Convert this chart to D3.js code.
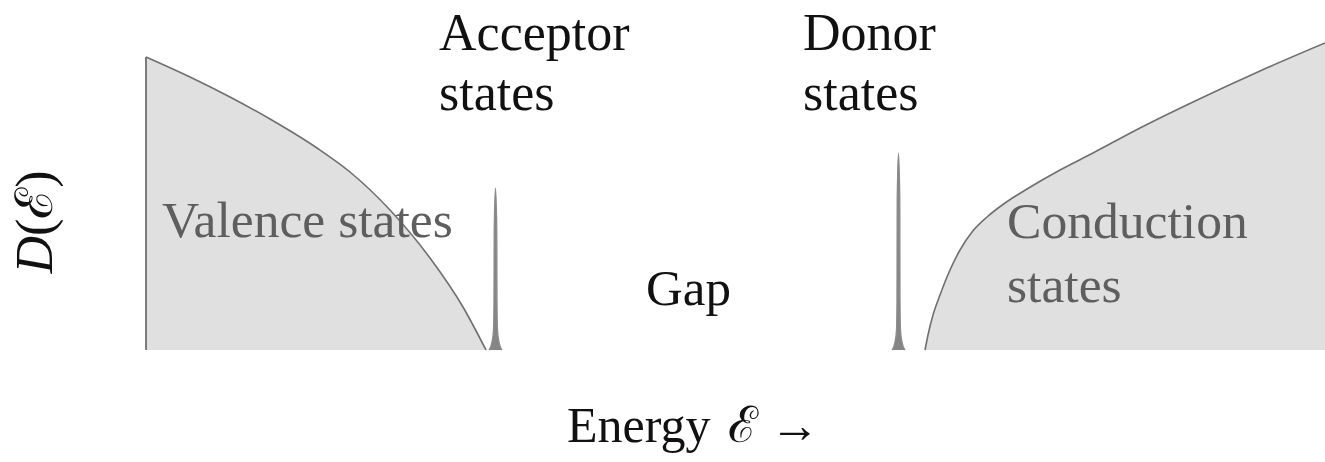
<!DOCTYPE html>
<html>
<head>
<meta charset="utf-8">
<script src="https://cdn.jsdelivr.net/npm/d3@7"></script>
<style>
  html, body { margin: 0; padding: 0; background: #fff; }
  svg { display: block; }
</style>
</head>
<body>
<svg id="chart" width="1325" height="462"></svg>
<script>
// Energy (arbitrary units) and density of states D(E)
const valenceEnergy = [0, 4.4, 8.4, 12.4, 17.1, 20.4, 24.4, 28.4, 31.7, 34.0];
const valenceDOS    = [29.3, 27.3, 25.3, 23.1, 20.2, 17.8, 14.0, 9.2, 4.3, 0];

const acceptorEnergy = [34.3, 34.6, 34.75, 34.8, 34.82, 34.95, 35.08, 35.1, 35.15, 35.3, 35.6];
const acceptorDOS    = [0, 0.8, 2, 5, 12, 16.2, 12, 5, 2, 0.8, 0];

const donorEnergy = [74.6, 74.9, 75.05, 75.1, 75.12, 75.25, 75.38, 75.4, 75.45, 75.6, 75.9];
const donorDOS    = [0, 0.8, 2, 5, 15, 19.7, 15, 5, 2, 0.8, 0];

const conductionEnergy = [77.9, 78.2, 78.7, 79.4, 80.4, 81.4, 82.6, 84.1, 85.9, 88.1, 91.4, 94.7, 99.4, 104.7, 111.4, 117.9];
const conductionDOS    = [0, 1.5, 3.5, 5.5, 8.0, 10.0, 11.8, 13.3, 14.7, 16.1, 18.0, 19.7, 22.2, 24.8, 27.9, 30.7];

const topLabels = [
  {lines: ["Acceptor", "states"], e: 29.5},
  {lines: ["Donor", "states"], e: 65.9}
];
const bandLabels = [
  {lines: ["Valence states"], e: 1.6, d: 11.3},
  {lines: ["Conduction", "states"], e: 86.1, d: 11.2}
];
const gapLabel = {text: "Gap", e: 50.0, d: 4.5};
const xTitle = ["Energy", "\u2130", "\u2192"];
const yTitle = ["D", "(\u2130)"];

const FONT = "'Liberation Serif', 'Times New Roman', serif";
const svg = d3.select("#chart");
const x = d3.scaleLinear().domain([0, 118]).range([146, 1326]);
const y = d3.scaleLinear().domain([0, 30]).range([350, 50]);

const zip = (es, ds) => es.map((e, i) => ({e, d: ds[i]}));
const fillC = "#e0e0e0", strokeC = "#6f6f6f";

const area = d3.area().x(p => x(p.e)).y0(y(0)).y1(p => y(p.d)).curve(d3.curveMonotoneX);
const line = d3.line().x(p => x(p.e)).y(p => y(p.d)).curve(d3.curveMonotoneX);

// Valence band
const val = zip(valenceEnergy, valenceDOS);
svg.append("path").attr("d", area(val)).attr("fill", fillC);
svg.append("path").attr("d", line(val)).attr("fill", "none").attr("stroke", strokeC).attr("stroke-width", 1.6);
svg.append("line").attr("x1", x(0)).attr("x2", x(0)).attr("y1", y(0)).attr("y2", y(valenceDOS[0]))
  .attr("stroke", strokeC).attr("stroke-width", 1.8);

// Conduction band
const con = zip(conductionEnergy, conductionDOS);
svg.append("path").attr("d", area(con)).attr("fill", fillC);
svg.append("path").attr("d", line(con)).attr("fill", "none").attr("stroke", strokeC).attr("stroke-width", 1.6);

// Impurity spikes
[zip(acceptorEnergy, acceptorDOS), zip(donorEnergy, donorDOS)].forEach(s => {
  svg.append("path").attr("d", area(s)).attr("fill", "#858585");
  svg.append("path").attr("d", line(s)).attr("fill", "none").attr("stroke", "#8c8c8c").attr("stroke-width", 1.3);
});

// Labels above
topLabels.forEach(l => {
  const t = svg.append("text").attr("font-family", FONT).attr("font-size", 52).attr("fill", "#111");
  l.lines.forEach((s, i) => t.append("tspan").attr("x", x(l.e) - 2).attr("y", 50 + i * 60).text(s));
});

// Labels in bands
bandLabels.forEach(l => {
  const t = svg.append("text").attr("font-family", FONT).attr("font-size", 51.6).attr("fill", "#5e5e5e");
  l.lines.forEach((s, i) => t.append("tspan").attr("x", x(l.e)).attr("y", y(l.d) + i * 64).text(s));
});

svg.append("text").attr("font-family", FONT).attr("x", x(gapLabel.e)).attr("y", y(gapLabel.d)).attr("font-size", 51)
  .attr("fill", "#111").text(gapLabel.text);

const xt = svg.append("text").attr("font-family", FONT).attr("y", 442).attr("font-size", 50).attr("fill", "#111");
xt.append("tspan").attr("x", 567).text(xTitle[0]);
xt.append("tspan").attr("x", 728).text(xTitle[1]);
xt.append("tspan").attr("x", 770).text(xTitle[2]);

const yt = svg.append("text").attr("font-family", FONT).attr("transform", "translate(52,222) rotate(-90)")
  .attr("text-anchor", "middle").attr("font-size", 52).attr("fill", "#111");
yt.append("tspan").attr("font-style", "italic").text(yTitle[0]);
yt.append("tspan").text(yTitle[1]);
</script>
</body>
</html>
